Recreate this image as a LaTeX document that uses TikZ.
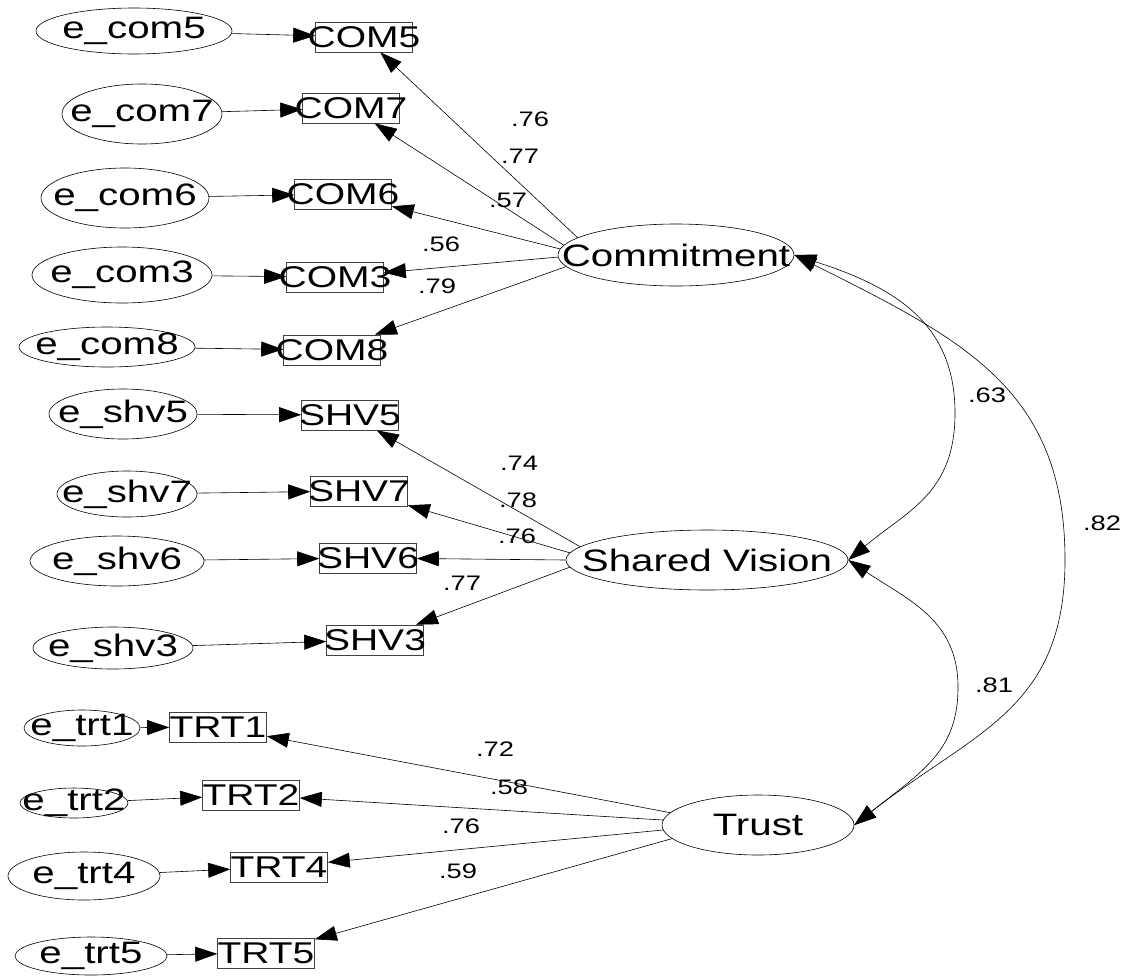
\documentclass[tikz,border=0pt]{standalone}
\usepackage{fontspec}
\setmainfont{Liberation Sans}[FakeStretch=1.3]
\usetikzlibrary{shapes.geometric,arrows.meta}
\begin{document}
\begin{tikzpicture}[x=1pt,y=-1pt,line width=0.6pt,
  arr/.style={-{Triangle[length=22pt,width=15pt]}},
  cov/.style={{Triangle[length=22pt,width=15pt]}-{Triangle[length=22pt,width=15pt]}},
  err/.style 2 args={draw, ellipse, inner sep=0pt, minimum width=#1, minimum height=#2},
  lat/.style 2 args={draw, ellipse, inner sep=0pt, minimum width=#1, minimum height=#2},
  obs/.style={draw=black!75, rectangle, inner sep=0pt, minimum width=97, minimum height=30},
  efont/.style={font=\fontsize{31}{36}\selectfont, inner sep=0pt},
  ofont/.style={font=\fontsize{30}{35}\selectfont, inner sep=0pt},
  lfont/.style={font=\fontsize{31}{36}\selectfont, inner sep=0pt},
  coef/.style={font=\fontsize{21}{25}\selectfont, inner sep=0pt}]
\useasboundingbox (0,0) rectangle (1131,975);
\fill[white] (0,0) rectangle (1131,975);

% latent variables
\node[lat={236}{62}, label={[lfont]center:Commitment}] (Com) at (676,255) {};
\node[lat={282}{60}, label={[lfont]center:Shared Vision}] (SV) at (707,560) {};
\node[lat={192}{60}, label={[lfont]center:Trust}] (Tr) at (758,825) {};

% commitment block
\node[err={196}{46}, label={[efont]center:e\_com5}] (ec5) at (134,31) {};
\node[err={160}{60}, label={[efont]center:e\_com7}] (ec7) at (142,114) {};
\node[err={168}{60}, label={[efont]center:e\_com6}] (ec6) at (125,198) {};
\node[err={180}{56}, label={[efont]center:e\_com3}] (ec3) at (122,275) {};
\node[err={176}{40}, label={[efont]center:e\_com8}] (ec8) at (107,347) {};
\node[obs, label={[ofont]center:COM5}] (COM5) at (364,37) {};
\node[obs, label={[ofont]center:COM7}] (COM7) at (351,108) {};
\node[obs, label={[ofont]center:COM6}] (COM6) at (343,194) {};
\node[obs, label={[ofont]center:COM3}] (COM3) at (335,277) {};
\node[obs, label={[ofont]center:COM8}] (COM8) at (332,350) {};

% shared vision block
\node[err={148}{50}, label={[efont]center:e\_shv5}] (es5) at (123,414) {};
\node[err={140}{46}, label={[efont]center:e\_shv7}] (es7) at (127,494) {};
\node[err={174}{50}, label={[efont]center:e\_shv6}] (es6) at (117,561) {};
\node[err={160}{42}, label={[efont]center:e\_shv3}] (es3) at (113,648) {};
\node[obs, label={[ofont]center:SHV5}] (SHV5) at (350,415) {};
\node[obs, label={[ofont]center:SHV7}] (SHV7) at (359,491) {};
\node[obs, label={[ofont]center:SHV6}] (SHV6) at (368,558) {};
\node[obs, label={[ofont]center:SHV3}] (SHV3) at (375,640) {};

% trust block
\node[err={116}{36}, label={[efont]center:e\_trt1}] (et1) at (82,728) {};
\node[err={108}{30}, label={[efont]center:e\_trt2}] (et2) at (74,803) {};
\node[err={152}{48}, label={[efont]center:e\_trt4}] (et4) at (84,876) {};
\node[err={152}{38}, label={[efont]center:e\_trt5}] (et5) at (91,956) {};
\node[obs, label={[ofont]center:TRT1}] (TRT1) at (218,727) {};
\node[obs, label={[ofont]center:TRT2}] (TRT2) at (251,795) {};
\node[obs, label={[ofont]center:TRT4}] (TRT4) at (279,867) {};
\node[obs, label={[ofont]center:TRT5}] (TRT5) at (266,953) {};

% error arrows
\foreach \e/\o in {ec5/COM5,ec7/COM7,ec6/COM6,ec3/COM3,ec8/COM8,
                   es5/SHV5,es7/SHV7,es6/SHV6,es3/SHV3,
                   et1/TRT1,et2/TRT2,et4/TRT4,et5/TRT5}
  \draw[arr] (\e) -- (\o);

% loadings
\draw[arr] (Com.170) -- (COM5);
\draw[arr] (Com.175) -- (COM7);
\draw[arr] (Com.177) -- (COM6);
\draw[arr] (Com.181) -- (COM3);
\draw[arr] (Com.186) -- (COM8);
\draw[arr] (SV.174) -- (SHV5);
\draw[arr] (SV.177) -- (SHV7);
\draw[arr] (SV.180) -- (SHV6);
\draw[arr] (SV.183) -- (SHV3);
\draw[arr] (Tr.172) -- (TRT1);
\draw[arr] (Tr.177) -- (TRT2);
\draw[arr] (Tr.183) -- (TRT4);
\draw[arr] (Tr.189) -- (TRT5);

% covariances
\coordinate (m63) at (955,413);
\coordinate (m82) at (1065,560);
\coordinate (m81) at (958,687);
\draw[cov] (Com.east) .. controls +(100,32) and +(0,-90) .. (m63)
                      .. controls +(0,80) and +(60,-50) .. (SV.east);
\draw[cov] (Com.east) .. controls +(170,85) and +(0,-170) .. (m82)
                      .. controls +(0,150) and +(120,-94) .. (Tr.east);
\draw[cov] (SV.east) .. controls +(60,40) and +(0,-67) .. (m81)
                     .. controls +(0,63) and +(70,-55) .. (Tr.east);

% coefficients
\node[coef] (k1) at (530,119) {.76};
\node[coef] (k2) at (520,156) {.77};
\node[coef] (k3) at (508,200) {.57};
\node[coef] (k4) at (441,244) {.56};
\node[coef] (k5) at (437,286) {.79};
\node[coef] (k6) at (519,463) {.74};
\node[coef] (k7) at (518,500) {.78};
\node[coef] (k8) at (517,536) {.76};
\node[coef] (k9) at (462,583) {.77};
\node[coef] (k10) at (495,749) {.72};
\node[coef] (k11) at (509,787) {.58};
\node[coef] (k12) at (461,826) {.76};
\node[coef] (k13) at (458,871) {.59};
\node[coef] (k14) at (987,395) {.63};
\node[coef] (k15) at (1102,523) {.82};
\node[coef] (k16) at (994,685) {.81};
\end{tikzpicture}
\end{document}
